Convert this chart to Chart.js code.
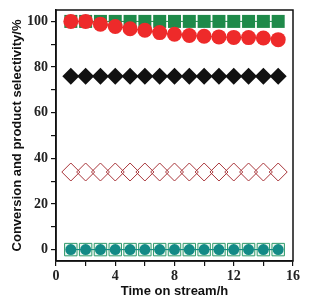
<!DOCTYPE html>
<html>
<head>
<meta charset="utf-8">
<script src="https://cdn.jsdelivr.net/npm/chart.js@4.4.0/dist/chart.umd.min.js"></script>
<style>
    html, body { margin: 0; padding: 0; background: #fff; }
    #wrap { width: 309px; height: 305px; }
</style>
</head>
<body>
<div id="wrap"><canvas id="stabilityChart" width="309" height="305"></canvas></div>
<script>
// Time on stream (h)
const hours = [1, 2, 3, 4, 5, 6, 7, 8, 9, 10, 11, 12, 13, 14, 15];

// series values (%)
const greenSquares = [100, 100, 100, 100, 100, 100, 100, 100, 100, 100, 100, 100, 100, 100, 100];
const redCircles = [100, 100, 98.8, 97.8, 96.8, 96.1, 95.1, 94.4, 93.8, 93.5, 93.2, 93.0, 92.9, 92.7, 92.0];
const blackDiamonds = [76, 76, 76, 76, 76, 76, 76, 76, 76, 76, 76, 76, 76, 76, 76];
const openDiamonds = [34, 34, 34, 34, 34, 34, 34, 34, 34, 34, 34, 34, 34, 34, 34];
const tealCircles = [0, 0, 0, 0, 0, 0, 0, 0, 0, 0, 0, 0, 0, 0, 0];

// tick labels
const xTickLabels = [0, 4, 8, 12, 16];
const yTickLabels = [0, 20, 40, 60, 80, 100];

function pts(values) {
    return values.map((v, i) => ({ x: hours[i], y: v }));
}

// frame around the plot area
const framePlugin = {
    id: 'frame',
    afterDraw(chart) {
        const a = chart.chartArea;
        const ctx = chart.ctx;
        ctx.save();
        ctx.strokeStyle = '#111';
        ctx.lineWidth = 1.5;
        ctx.strokeRect(a.left, a.top, a.right - a.left, a.bottom - a.top);
        ctx.restore();
    }
};

const tickFont = { family: '"Liberation Serif", "Times New Roman", serif', size: 14, weight: 'bold' };
const titleFont = { family: '"Liberation Sans", Arial, sans-serif', size: 13, weight: 'bold' };

new Chart(document.getElementById('stabilityChart').getContext('2d'), {
    type: 'line',
    data: {
        datasets: [
            {
                data: pts(redCircles),
                borderColor: '#ee2a2a',
                backgroundColor: '#ee2a2a',
                borderWidth: 1,
                pointStyle: 'circle',
                pointRadius: 7.5,
                pointBorderWidth: 0
            },
            {
                data: pts(greenSquares),
                borderColor: '#1f8a4a',
                backgroundColor: '#1f8a4a',
                borderWidth: 1,
                pointStyle: 'rect',
                pointRadius: 9.2,
                pointBorderWidth: 0
            },
            {
                data: pts(blackDiamonds),
                borderColor: '#111',
                backgroundColor: '#111',
                borderWidth: 1,
                pointStyle: 'rectRot',
                pointRadius: 8.5,
                pointBorderWidth: 0
            },
            {
                data: pts(openDiamonds),
                borderColor: '#a8353a',
                backgroundColor: 'rgba(255,255,255,0)',
                borderWidth: 0,
                showLine: false,
                pointStyle: 'rectRot',
                pointRadius: 9,
                pointBorderWidth: 1
            },
            {
                data: pts(tealCircles),
                borderColor: '#138a86',
                backgroundColor: '#138a86',
                borderWidth: 1,
                pointStyle: 'circle',
                pointRadius: 5.5,
                pointBorderWidth: 0
            },
            {
                data: pts(tealCircles),
                borderColor: '#2e9a6a',
                backgroundColor: 'rgba(220,240,230,0.6)',
                borderWidth: 1,
                pointStyle: 'rect',
                pointRadius: 8.8,
                pointBorderWidth: 1
            }
        ]
    },
    options: {
        responsive: false,
        animation: false,
        layout: { padding: { left: 0, top: 7, right: 16, bottom: 0 } },
        plugins: {
            legend: { display: false },
            tooltip: { enabled: false }
        },
        scales: {
            x: {
                type: 'linear',
                min: 0,
                max: 16,
                afterFit: scale => { scale.height = 44; },
                border: { display: true, color: '#111', width: 1.5 },
                grid: { drawOnChartArea: false, drawTicks: true, tickLength: 5, color: '#111', lineWidth: 1.2 },
                ticks: {
                    stepSize: 2,
                    padding: 2,
                    color: '#222',
                    font: tickFont,
                    maxRotation: 0,
                    callback: v => xTickLabels.includes(v) ? String(v) : ''
                },
                title: {
                    display: true,
                    text: 'Time on stream/h',
                    color: '#111',
                    font: titleFont,
                    padding: { top: 2, bottom: 6 }
                }
            },
            y: {
                type: 'linear',
                min: -5,
                max: 105,
                afterFit: scale => {
                    scale.width = 56;
                    scale.paddingTop = 0;
                    scale.paddingBottom = 0;
                },
                afterBuildTicks: scale => {
                    const list = [];
                    for (let v = 0; v <= 100; v += 10) list.push({ value: v });
                    scale.ticks = list;
                },
                border: { display: true, color: '#111', width: 1.5 },
                grid: { drawOnChartArea: false, drawTicks: true, tickLength: 5, color: '#111', lineWidth: 1.2 },
                ticks: {
                    padding: 3,
                    color: '#222',
                    font: tickFont,
                    callback: v => yTickLabels.includes(v) ? String(v) : ''
                },
                title: {
                    display: true,
                    text: 'Conversion and product selectivity/%',
                    color: '#111',
                    font: titleFont,
                    padding: { top: 10, bottom: 0 }
                }
            }
        }
    },
    plugins: [framePlugin]
});
</script>
</body>
</html>
